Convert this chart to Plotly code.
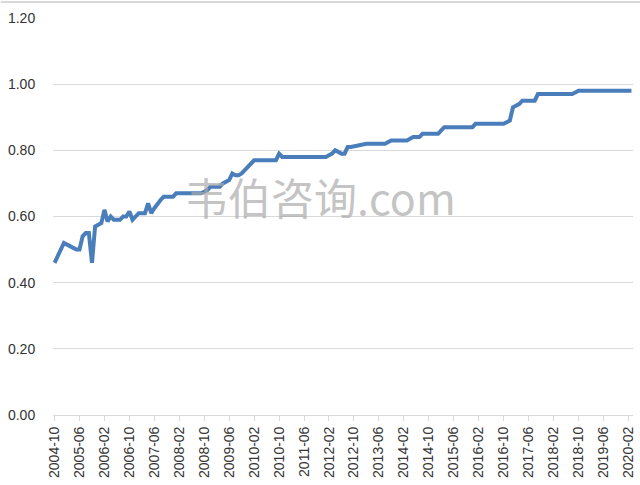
import plotly.graph_objects as go
import pandas as pd

# Monthly categories 2004-10 .. 2020-03
months = [p.strftime("%Y-%m") for p in pd.period_range("2004-10", periods=186, freq="M")]

values = [
    0.46, 0.48, 0.50, 0.52, 0.515, 0.51, 0.505, 0.50, 0.50, 0.54,
    0.55, 0.55, 0.46, 0.57, 0.575, 0.58, 0.62, 0.585, 0.60, 0.59,
    0.59, 0.59, 0.60, 0.60, 0.615, 0.59, 0.60, 0.61, 0.61, 0.61,
    0.64, 0.61, 0.625, 0.64, 0.65, 0.66, 0.66, 0.66, 0.66, 0.67,
    0.67, 0.67, 0.67, 0.67, 0.67, 0.67, 0.67, 0.67, 0.675, 0.68,
    0.69, 0.69, 0.69, 0.69, 0.70, 0.705, 0.71, 0.73, 0.725, 0.725,
    0.73, 0.74, 0.75, 0.76, 0.77, 0.77, 0.77, 0.77, 0.77, 0.77,
    0.77, 0.77, 0.79, 0.78, 0.78, 0.78, 0.78, 0.78, 0.78, 0.78,
    0.78, 0.78, 0.78, 0.78, 0.78, 0.78, 0.78, 0.78, 0.785, 0.79,
    0.80, 0.795, 0.79, 0.79, 0.81, 0.81, 0.812, 0.815, 0.817, 0.82,
    0.82, 0.82, 0.82, 0.82, 0.82, 0.82, 0.82, 0.825, 0.83, 0.83,
    0.83, 0.83, 0.83, 0.83, 0.835, 0.84, 0.84, 0.84, 0.85, 0.85,
    0.85, 0.85, 0.85, 0.85, 0.86, 0.87, 0.87, 0.87, 0.87, 0.87,
    0.87, 0.87, 0.87, 0.87, 0.87, 0.88, 0.88, 0.88, 0.88, 0.88,
    0.88, 0.88, 0.88, 0.88, 0.88, 0.885, 0.89, 0.93, 0.935, 0.94,
    0.95, 0.95, 0.95, 0.95, 0.95, 0.97, 0.97, 0.97, 0.97, 0.97,
    0.97, 0.97, 0.97, 0.97, 0.97, 0.97, 0.97, 0.975, 0.98, 0.98,
    0.98, 0.98, 0.98, 0.98, 0.98, 0.98, 0.98, 0.98, 0.98, 0.98,
    0.98, 0.98, 0.98, 0.98, 0.98, 0.98,
]

tick_labels = months[::8]
y_ticks = [0, 0.2, 0.4, 0.6, 0.8, 1.0, 1.2]

fig = go.Figure()
fig.add_trace(go.Scatter(
    x=months, y=values, mode="lines",
    line=dict(color="#4A7EBB", width=4),
    showlegend=False, hoverinfo="skip",
))

font_family = "Liberation Sans, Arial, sans-serif"
fig.update_layout(
    width=640, height=485,
    margin=dict(l=53, r=7, t=18, b=70, autoexpand=False),
    paper_bgcolor="white", plot_bgcolor="white",
    font=dict(family=font_family, size=14, color="#333333"),
    xaxis=dict(
        type="category", categoryorder="array", categoryarray=months,
        range=[-0.5, len(months) - 0.5],
        tickmode="array", tickvals=tick_labels, ticktext=tick_labels,
        tickangle=-90, showgrid=False, automargin=False,
        showline=True, linecolor="#d9d9d9", linewidth=1,
        ticks="outside", ticklen=5, tickcolor="#d9d9d9",
        tickfont=dict(size=14, color="#333333"),
        zeroline=False,
    ),
    yaxis=dict(
        range=[0, 1.2], tickvals=y_ticks, automargin=False,
        ticktext=[f"{v:.2f}" for v in y_ticks],
        showgrid=True, gridcolor="#d9d9d9", gridwidth=1,
        zeroline=False, showline=False,
        ticks="outside", ticklen=14, tickcolor="rgba(0,0,0,0)",
        tickfont=dict(size=14, color="#333333"),
    ),
    shapes=[dict(type="line", xref="paper", yref="paper",
                 x0=-0.09, x1=1.02, y0=1.04, y1=1.04,
                 line=dict(color="#d9d9d9", width=2))],
    annotations=[dict(
        text="韦伯咨询.com", xref="paper", yref="paper",
        x=(320 - 53) / 580, y=(415 - 196) / 397,
        xanchor="center", yanchor="middle", showarrow=False,
        font=dict(family="Noto Sans CJK SC, sans-serif", size=43,
                  color="rgba(170,170,170,0.7)"),
    )],
)

fig.write_html("out.html",
               config={"displayModeBar": False},
               post_script="document.body.style.margin='0';document.body.style.padding='0';")
